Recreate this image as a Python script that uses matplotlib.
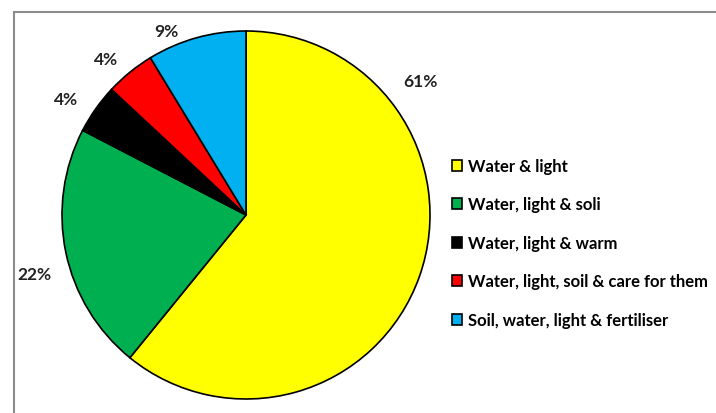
import matplotlib.pyplot as plt
from matplotlib.patches import Rectangle

# Data (counts give 61/22/4/4/9 %)
labels = ["Water & light", "Water, light & soli", "Water, light & warm",
          "Water, light, soil & care for them", "Soil, water, light & fertiliser"]
counts = [14, 5, 1, 1, 2]
colors = ["#FFFF00", "#00B050", "#000000", "#FF0000", "#00B0F0"]
pct_text = ["61%", "22%", "4%", "4%", "9%"]
# label positions relative to the pie centre, in radius units
label_xy = [(0.95, 0.73), (-1.15, -0.32), (-0.98, 0.63), (-0.76, 0.85), (-0.435, 1.0)]

W, H = 716, 414
fig = plt.figure(figsize=(W / 100, H / 100), dpi=100)

# chart frame (only top and left edges visible)
fig.add_artist(Rectangle((14 / W, -0.1), 1.2, (H - 13) / H + 0.1, transform=fig.transFigure,
                         fill=False, edgecolor="#8c8c8c", linewidth=1.5))

cx, cy, r = 246, 216, 184
ax = fig.add_axes([(cx - r) / W, (H - cy - r) / H, 2 * r / W, 2 * r / H])
wedges, _ = ax.pie(counts, colors=colors, startangle=90, counterclock=False,
                   wedgeprops=dict(edgecolor="black", linewidth=1.2))
ax.set_xlim(-1, 1)
ax.set_ylim(-1, 1)
ax.set_aspect("equal")
ax.axis("off")

for txt, (x, y) in zip(pct_text, label_xy):
    ax.text(x, y, txt, ha="center", va="center", fontsize=12.5, fontweight="bold",
            family="Lato", color="#222222", clip_on=False)

fig.legend(wedges, labels, loc="center left", bbox_to_anchor=(437 / W, 1 - 244 / H),
           frameon=False, prop=dict(family="Lato", weight="bold", size=12),
           handlelength=0.62, handleheight=0.62, handletextpad=0.35, labelspacing=1.35,
           borderpad=0.4)

fig.savefig("out.png", dpi=100)
